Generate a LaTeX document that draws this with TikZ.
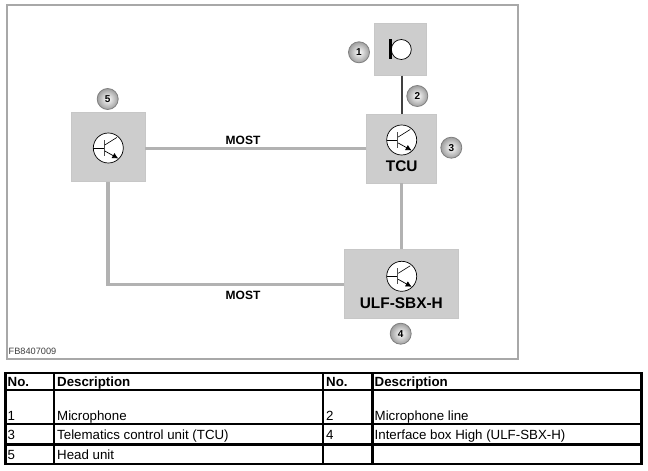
\documentclass[tikz,border=0pt]{standalone}
\usepackage{fontspec}
\setmainfont{Liberation Sans}
\usetikzlibrary{shadings,calc,arrows.meta}
\definecolor{boxgray}{HTML}{CDCDCD}
\definecolor{linegray}{HTML}{B2B2B2}
\definecolor{framegray}{HTML}{A8A8A8}
\tikzset{
	unitbox/.style={draw=black!22, line width=0.8pt, fill=boxgray, inner sep=0pt, text=black, font=\fontsize{15.4}{16}\selectfont\bfseries},
	busline/.style={draw=linegray, line width=3.6pt},
	micline/.style={draw=black!75, line width=2pt},
	bubble/.style={circle, draw=black!50, line width=0.8pt, minimum size=21pt, inner sep=0pt, shading=radial, inner color=white, outer color=black!38, font=\fontsize{10}{10}\selectfont\bfseries},
	busname/.style={font=\fontsize{12}{12}\selectfont\bfseries},
	cell/.style={anchor=base west, inner sep=0pt, font=\fontsize{13.3}{14}\selectfont},
	headcell/.style={cell, font=\fontsize{13.3}{14}\selectfont\bfseries},
	rule/.style={draw=black, line width=2.6pt}
}
\def\transistor(#1){
	\draw[fill=white, line width=0.7pt] (#1) circle (15);
	\draw[line width=0.5pt] ($(#1)+(-15,0)$) -- ($(#1)+(-4,0)$);
	\draw[line width=1.2pt, black!70] ($(#1)+(-4,-8)$) -- ($(#1)+(-4,8)$);
	\draw[line width=0.6pt] ($(#1)+(-3.5,-3)$) -- ($(#1)+(8.5,-10.5)$);
	\draw[line width=0.7pt, -{Latex[length=6pt,width=6pt]}] ($(#1)+(-3.5,3)$) -- ($(#1)+(10,10.5)$);
}
\begin{document}
\begin{tikzpicture}[x=1pt, y=-1pt]
	\useasboundingbox (0,0) rectangle (648,471);
	\fill[white] (0,0) rectangle (648,471);
	
	% frame
	\draw[framegray, line width=2pt] (6.5,4.5) rectangle (518,359);
	\node[anchor=base west, inner sep=0pt, text=black!75, font=\fontsize{9.2}{10}\selectfont] (figref) at (8.5,354.5) {FB8407009};
	
	% units
	\node[unitbox, minimum width=52pt, minimum height=52pt] (mic) at (400.8,49.3) {};
	\node[unitbox, minimum width=70pt, minimum height=69pt] (tcu) at (401.7,148.4) {};
	\node[unitbox, minimum width=114.5pt, minimum height=69pt] (ulf) at (401.3,284.3) {};
	\node[unitbox, minimum width=74pt, minimum height=69pt] (head) at (108,147.2) {};
	
	% connectors
	\coordinate (headout) at ([yshift=-1.3pt]head.east);
	\draw[micline] (mic.south -| tcu.north) -- (tcu.north);
	\draw[busline] (headout) -- (headout -| tcu.west);
	\draw[busline] (tcu.south -| ulf.north) -- (ulf.north);
	\draw[busline] (head.south) |- (ulf.west);
	
	% symbols
	\transistor(401.7,140)
	\transistor(401.7,276.3)
	\transistor(108.3,148)
	\draw[fill=white, line width=0.7pt] (401.3,49.5) circle (10);
	\draw[black, line width=3pt] (390,39.3) -- (390,59.3);
	
	\node[unitbox, draw=none, fill=none] (tcuname) at (401.7,166) {TCU};
	\node[unitbox, draw=none, fill=none] (ulfname) at (401.3,303) {ULF-SBX-H};
	\node[busname] (mosttop) at (243,140) {MOST};
	\node[busname] (mostlow) at (243,295) {MOST};
	
	% callouts
	\node[bubble] (no1) at (359,52.3) {1};
	\node[bubble] (no2) at (417.3,96) {2};
	\node[bubble] (no3) at (451.3,147.7) {3};
	\node[bubble] (no4) at (400.7,333.7) {4};
	\node[bubble] (no5) at (107.7,99) {5};
	
	% table
	\draw[rule] (5.5,373) rectangle (641.5,464);
	\draw[rule] (5.5,390) -- (641.5,390);
	\draw[rule] (5.5,424) -- (641.5,424);
	\draw[rule] (5.5,444.5) -- (641.5,444.5);
	\draw[rule] (54,373) -- (54,464);
	\draw[rule] (323,373) -- (323,464);
	\draw[rule] (372.5,373) -- (372.5,464);
	
	\node[headcell] (hno) at (7.5,386.5) {No.};
	\node[headcell] (hdesc) at (57,386.5) {Description};
	\node[headcell] (hnob) at (326,386.5) {No.};
	\node[headcell] (hdescb) at (374.5,386.5) {Description};
	\node[cell] (cella) at (7.5,420) {1};
	\node[cell] (cellb) at (57,420) {Microphone};
	\node[cell] (cellc) at (326,420) {2};
	\node[cell] (celld) at (374.5,420) {Microphone line};
	\node[cell] (celle) at (7.5,439) {3};
	\node[cell] (cellf) at (57,439) {Telematics control unit (TCU)};
	\node[cell] (cellg) at (326,439) {4};
	\node[cell] (cellh) at (374.5,439) {Interface box High (ULF-SBX-H)};
	\node[cell] (celli) at (7.5,459) {5};
	\node[cell] (cellj) at (57,459) {Head unit};
\end{tikzpicture}
\end{document}
